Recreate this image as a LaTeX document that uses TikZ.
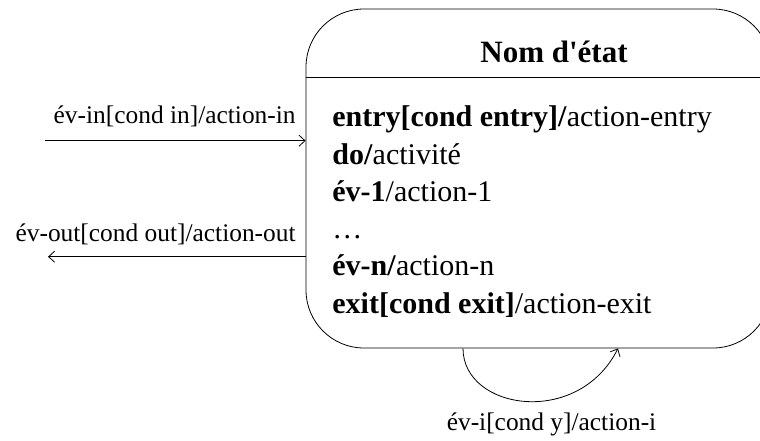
\documentclass[tikz,border=0pt]{standalone}
\usepackage{fontspec}
\setmainfont{Liberation Serif}
\usetikzlibrary{positioning,arrows.meta}

\begin{document}
\begin{tikzpicture}[x=1pt, y=-1pt, >={Straight Barb[length=6pt, width=11pt]}, line width=0.8pt,
    etatbox/.style={draw, rounded corners=58pt, minimum width=465pt,
        minimum height=339pt, inner sep=0pt},
    titre/.style={font=\fontsize{31}{36}\selectfont\bfseries, anchor=base},
    corps/.style={font=\fontsize{30}{36}\selectfont, anchor=base west, inner sep=0pt},
    lbl/.style={font=\fontsize{25.4}{30}\selectfont, inner sep=0pt}]
    \clip (0,0) rectangle (760,440);

    \node[etatbox] (etat) at (538.5,178.5) {};
    \coordinate (sep) at (0,77);
    \draw (etat.west |- sep) -- (etat.east |- sep);

    \node[titre] (nom) at (554,62) {Nom d\textquotesingle état};

    \node[corps] (l1) at (332,126.7) {\textbf{entry[cond entry]/}action-entry};
    \node[corps] (l2) at (332,164) {\textbf{do/}activité};
    \node[corps] (l3) at (332,201.3) {\textbf{év-1}/action-1};
    \node[corps] (l4) at (332,238.6) {…};
    \node[corps] (l5) at (332,275.9) {\textbf{év-n/}action-n};
    \node[corps] (l6) at (332,313.2) {\textbf{exit[cond exit]}/action-exit};

    \coordinate (inA) at (45,140.7);
    \coordinate (outA) at (48,256.7);
    \draw[->] (inA) -- (inA -| etat.west);
    \draw[->] (outA -| etat.west) -- (outA);
    \node[lbl, anchor=base east] (evin) at (296,123) {év-in[cond in]/action-in};
    \node[lbl, anchor=base east] (evout) at (296,241.7) {év-out[cond out]/action-out};

    \coordinate (boucleA) at (463,0);
    \coordinate (boucleB) at (618,0);
    \draw[->] (etat.south -| boucleA) .. controls (463,410) and (578,428)
        .. (etat.south -| boucleB);
    \node[lbl, anchor=base] (evi) at (551.5,430) {év-i[cond y]/action-i};
\end{tikzpicture}
\end{document}
